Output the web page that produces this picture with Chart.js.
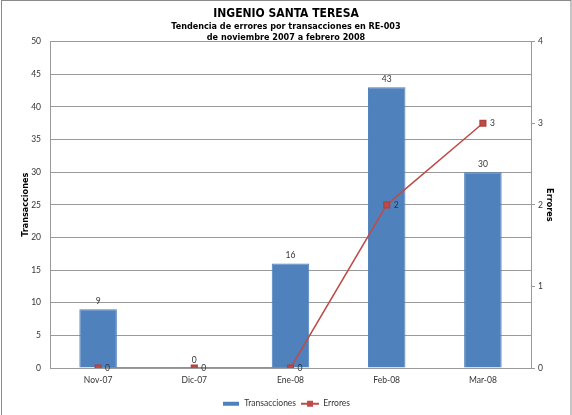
<!DOCTYPE html>
<html>
<head>
<meta charset="utf-8">
<script src="https://cdn.jsdelivr.net/npm/chart.js@4/dist/chart.umd.min.js"></script>
<style>
  body { margin: 0; background: #fff; }
  #wrap { width: 572px; height: 415px; }
</style>
</head>
<body>
<div id="wrap"><canvas id="chart" width="572" height="415"></canvas></div>
<script>
const meses = ['Nov-07', 'Dic-07', 'Ene-08', 'Feb-08', 'Mar-08'];
const transacciones = [9, 0, 16, 43, 30];
const errores = [0, 0, 0, 2, 3];

const azul = '#4F81BD';
const rojo = '#BE4B48';
const gris = '#9a9a9a';
const narrow = '"Liberation Sans Narrow", "DejaVu Sans Condensed", Arial, sans-serif';
const tickFont = { family: 'Lato, "Liberation Sans", sans-serif', size: 8.5 };

// little legend icons
function icono(tipo) {
    const c = document.createElement('canvas');
    c.width = 18; c.height = 8;
    const g = c.getContext('2d');
    if (tipo === 'bar') {
        g.fillStyle = azul;
        g.fillRect(1, 2, 16, 4);
    } else {
        g.strokeStyle = rojo;
        g.lineWidth = 2;
        g.beginPath(); g.moveTo(0, 4); g.lineTo(18, 4); g.stroke();
        g.fillStyle = rojo;
        g.fillRect(6, 1, 6, 6);
    }
    return c;
}
const iconos = [icono('bar'), icono('line')];

const marco = {
    id: 'marco',
    beforeDraw(chart) {
        const { ctx, width, height } = chart;
        ctx.save();
        ctx.fillStyle = '#fff';
        ctx.fillRect(0, 0, width, height);
        ctx.strokeStyle = '#8a8a8a';
        ctx.lineWidth = 1;
        ctx.strokeRect(1.5, 0.5, width - 2.5, height + 5);
        ctx.restore();
    }
};

const etiquetas = {
    id: 'etiquetas',
    afterDatasetsDraw(chart) {
        const { ctx } = chart;
        ctx.save();
        ctx.font = '8.5px Lato, "Liberation Sans", sans-serif';
        ctx.fillStyle = '#333';
        ctx.textBaseline = 'middle';
        chart.getDatasetMeta(1).data.forEach((bar, i) => {
            ctx.textAlign = 'center';
            ctx.fillText(transacciones[i], bar.x, bar.y - 8);
        });
        chart.getDatasetMeta(0).data.forEach((pt, i) => {
            ctx.textAlign = 'left';
            ctx.fillText(errores[i], pt.x + 7, pt.y);
        });
        ctx.restore();
    }
};

new Chart(document.getElementById('chart'), {
    data: {
        labels: meses,
        datasets: [{
            type: 'line',
            label: 'Errores',
            data: errores,
            yAxisID: 'y1',
            borderColor: rojo,
            backgroundColor: rojo,
            borderWidth: 1.5,
            pointStyle: 'rect',
            pointRadius: 4,
            pointBorderColor: '#b04340',
            tension: 0,
            order: 0
        }, {
            type: 'bar',
            label: 'Transacciones',
            data: transacciones,
            yAxisID: 'y',
            backgroundColor: azul,
            borderColor: '#4a7ebb',
            borderWidth: 1,
            categoryPercentage: 1,
            barPercentage: 0.39,
            order: 1
        }]
    },
    options: {
        responsive: false,
        animation: false,
        layout: { padding: { left: 0, right: 0, top: 0, bottom: -3 } },
        scales: {
            x: {
                offset: true,
                grid: { display: false, drawTicks: false },
                border: { display: true, color: gris },
                ticks: { color: '#333', font: tickFont, padding: 7, maxRotation: 0 },
                afterFit(s) { s.height = 26.5; }
            },
            y: {
                position: 'left',
                min: 0, max: 50,
                ticks: { stepSize: 5, color: '#333', font: tickFont, padding: 9 },
                grid: { color: gris, drawTicks: false },
                border: { display: true, color: gris },
                title: {
                    display: true,
                    text: 'Transacciones',
                    color: '#000',
                    font: { family: narrow, size: 9, weight: 'bold' },
                    padding: { top: 20, bottom: 0 }
                },
                afterFit(s) { s.width = 50; }
            },
            y1: {
                position: 'right',
                min: 0, max: 4,
                ticks: { stepSize: 1, color: '#333', font: tickFont, padding: 3 },
                grid: { drawOnChartArea: false, color: gris, tickLength: 4 },
                border: { display: true, color: gris },
                title: {
                    display: true,
                    text: 'Errores',
                    color: '#000',
                    font: { family: narrow, size: 9, weight: 'bold' },
                    padding: { top: 17, bottom: 0 }
                },
                afterFit(s) { s.width = 41; }
            }
        },
        plugins: {
            title: {
                display: true,
                text: 'INGENIO SANTA TERESA',
                color: '#000',
                font: { family: narrow, size: 12, weight: 'bold', lineHeight: 1.17 },
                padding: { top: 7, bottom: 0 }
            },
            subtitle: {
                display: true,
                text: ['Tendencia de errores por transacciones en RE-003', 'de noviembre 2007 a febrero 2008'],
                color: '#000',
                font: { family: narrow, size: 9, weight: 'bold', lineHeight: 1.2 },
                padding: { top: 0, bottom: -1 }
            },
            legend: {
                position: 'bottom',
                reverse: true,
                labels: {
                    usePointStyle: true,
                    pointStyleWidth: 18,
                    color: '#333',
                    font: tickFont,
                    padding: 5,
                    generateLabels(chart) {
                        return Chart.defaults.plugins.legend.labels.generateLabels(chart).map(it => {
                            it.pointStyle = iconos[it.datasetIndex === 1 ? 0 : 1];
                            return it;
                        });
                    }
                }
            },
            tooltip: { enabled: false }
        }
    },
    plugins: [marco, etiquetas]
});
</script>
</body>
</html>
